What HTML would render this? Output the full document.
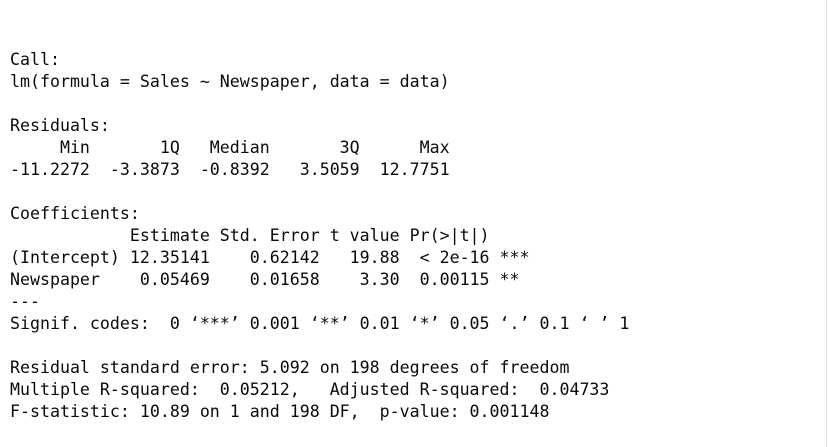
<!DOCTYPE html>
<html>
<head>
<meta charset="utf-8">
<style>
  html, body { margin:0; padding:0; background:#fff; }
  body { width:828px; height:447px; position:relative; overflow:hidden; }
  pre {
    position:absolute; left:10px; top:49px; margin:0;
    font-family:"DejaVu Sans Mono", "Liberation Mono", monospace;
    font-size:16.6px; line-height:22px; color:#0a0a0a;
  }
  .edge { position:absolute; right:1px; top:0; width:1px; height:447px; background:#e4e4e4; }
</style>
</head>
<body>
<pre>Call:
lm(formula = Sales ~ Newspaper, data = data)

Residuals:
     Min       1Q   Median       3Q      Max 
-11.2272  -3.3873  -0.8392   3.5059  12.7751 

Coefficients:
            Estimate Std. Error t value Pr(>|t|)    
(Intercept) 12.35141    0.62142   19.88  &lt; 2e-16 ***
Newspaper    0.05469    0.01658    3.30  0.00115 ** 
---
Signif. codes:  0 ‘***’ 0.001 ‘**’ 0.01 ‘*’ 0.05 ‘.’ 0.1 ‘ ’ 1

Residual standard error: 5.092 on 198 degrees of freedom
Multiple R-squared:  0.05212,   Adjusted R-squared:  0.04733 
F-statistic: 10.89 on 1 and 198 DF,  p-value: 0.001148</pre>
<div class="edge"></div>
</body>
</html>
